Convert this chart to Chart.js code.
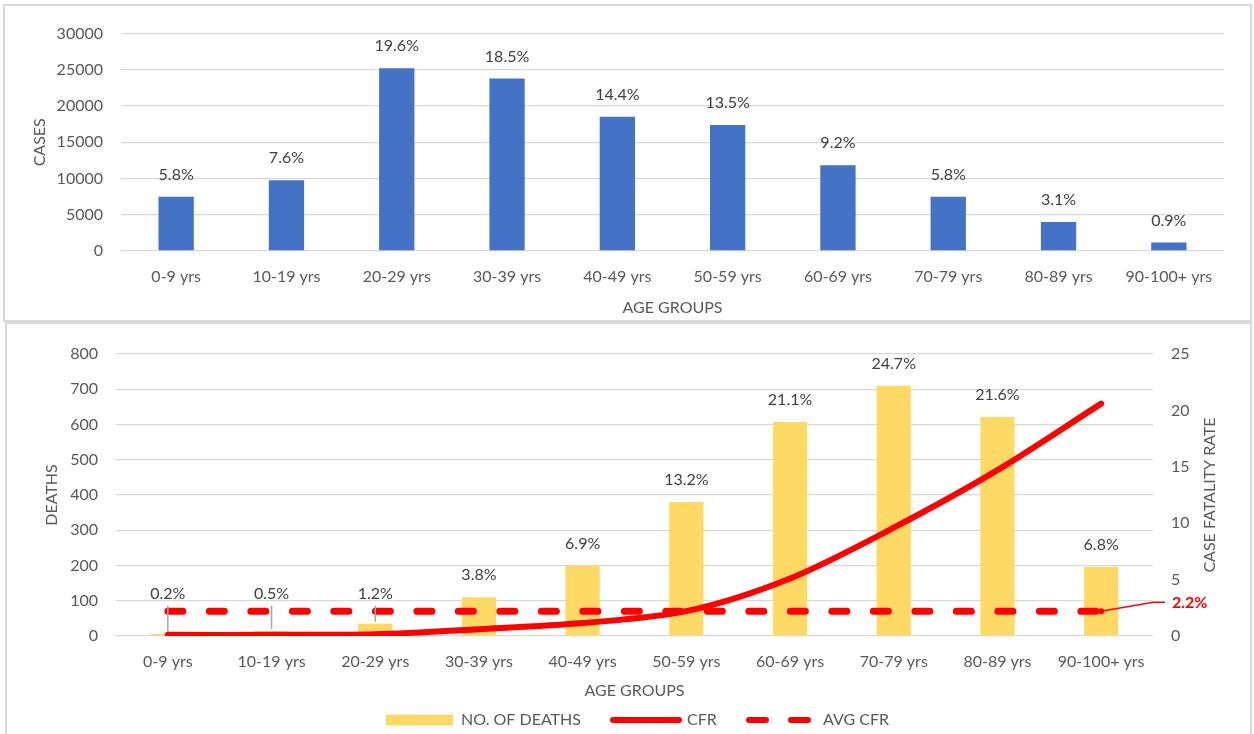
<!DOCTYPE html>
<html>
<head>
<meta charset="utf-8">
<script src="https://cdn.jsdelivr.net/npm/chart.js@4.4.1/dist/chart.umd.min.js"></script>
<style>
    body { margin: 0; background: #fff; overflow: hidden; width: 1254px; height: 734px; position: relative; }
    .caja { position: absolute; border: 2px solid #d9d9d9; box-sizing: border-box; }
    #caja-casos { left: 3px; top: 4px; width: 1249px; height: 318px; }
    #caja-muertes { left: 5px; top: 322px; width: 1247px; height: 430px; }
    canvas { display: block; }
</style>
</head>
<body>
<div class="caja" id="caja-casos"><canvas id="casos-grafica" width="1245" height="314"></canvas></div>
<div class="caja" id="caja-muertes"><canvas id="muertes-grafica" width="1243" height="410"></canvas></div>
<script>
const grupos = ['0-9 yrs', '10-19 yrs', '20-29 yrs', '30-39 yrs', '40-49 yrs', '50-59 yrs', '60-69 yrs', '70-79 yrs', '80-89 yrs', '90-100+ yrs'];
const casos = [7470, 9780, 25220, 23810, 18530, 17380, 11840, 7470, 3990, 1160];
const casosPct = [5.8, 7.6, 19.6, 18.5, 14.4, 13.5, 9.2, 5.8, 3.1, 0.9];
const muertes = [6, 14, 35, 110, 199, 380, 607, 710, 621, 196];
const muertesPct = [0.2, 0.5, 1.2, 3.8, 6.9, 13.2, 21.1, 24.7, 21.6, 6.8];
const cfr = [0.1, 0.1, 0.15, 0.6, 1.15, 2.2, 5.1, 9.6, 14.7, 20.6];
const cfrPromedio = 2.2;
const ticksCasos = [0, 5000, 10000, 15000, 20000, 25000, 30000];
const ticksMuertes = [0, 100, 200, 300, 400, 500, 600, 700, 800];
const ticksCfr = [0, 5, 10, 15, 20, 25];

(function() {
    Chart.defaults.font.family = 'Lato, "Open Sans", sans-serif';
    Chart.defaults.font.size = 16;
    Chart.defaults.color = '#595959';
    Chart.defaults.animation = false;

    const gris = '#d9d9d9';
    const textoDatos = '#404040';

    // etiquetas % encima de las barras
    const etiquetas = {
        id: 'etiquetas',
        afterDatasetsDraw(chart, args, opts) {
            const ctx = chart.ctx;
            const meta = chart.getDatasetMeta(opts.dataset || 0);
            const escala = chart.scales.y;
            const limite = opts.minValor != null ? escala.getPixelForValue(opts.minValor) : Infinity;
            ctx.save();
            ctx.font = '16px Lato, sans-serif';
            ctx.fillStyle = textoDatos;
            ctx.textAlign = 'center';
            ctx.textBaseline = 'middle';
            meta.data.forEach((barra, i) => {
                let y = barra.y - 22;
                if (y > limite) {
                    y = limite;
                    ctx.strokeStyle = '#a6a6a6';
                    ctx.lineWidth = 1.5;
                    ctx.beginPath();
                    ctx.moveTo(barra.x, y + 12);
                    ctx.lineTo(barra.x, barra.y - 2);
                    ctx.stroke();
                }
                ctx.fillText(opts.valores[i].toFixed(1) + '%', barra.x, y);
            });
            ctx.restore();
        }
    };

    // extras de la segunda grafica: titulo derecho, etiqueta 2.2% y leyenda
    const extras = {
        id: 'extras',
        afterDraw(chart) {
            const ctx = chart.ctx;
            const area = chart.chartArea;
            ctx.save();

            ctx.fillStyle = '#595959';
            ctx.font = '16px Lato, sans-serif';
            ctx.textAlign = 'center';
            ctx.textBaseline = 'middle';
            ctx.translate(1203, (area.top + area.bottom) / 2);
            ctx.rotate(-Math.PI / 2);
            ctx.fillText('CASE FATALITY RATE', 0, 0);
            ctx.setTransform(1, 0, 0, 1, 0, 0);

            const puntos = chart.getDatasetMeta(2).data;
            const ultimo = puntos[puntos.length - 1];
            ctx.strokeStyle = '#ff0000';
            ctx.lineWidth = 1.5;
            ctx.beginPath();
            ctx.moveTo(ultimo.x, ultimo.y);
            ctx.lineTo(area.right, ultimo.y - 9);
            ctx.lineTo(area.right + 12, ultimo.y - 9);
            ctx.stroke();
            ctx.fillStyle = '#ff0000';
            ctx.beginPath();
            ctx.arc(ultimo.x, ultimo.y, 3, 0, Math.PI * 2);
            ctx.fill();
            ctx.font = 'bold 16px Lato, sans-serif';
            ctx.textAlign = 'left';
            ctx.fillText(cfrPromedio.toFixed(1) + '%', area.right + 19, ultimo.y - 8);

            // leyenda
            const yl = 396;
            ctx.font = '16px Lato, sans-serif';
            ctx.textBaseline = 'middle';
            ctx.fillStyle = '#ffd966';
            ctx.fillRect(379, yl - 5.5, 67, 11);
            ctx.fillStyle = '#595959';
            ctx.fillText('NO. OF DEATHS', 454, yl);
            ctx.strokeStyle = '#ff0000';
            ctx.lineCap = 'round';
            ctx.lineWidth = 6;
            ctx.beginPath();
            ctx.moveTo(606, yl);
            ctx.lineTo(672, yl);
            ctx.stroke();
            ctx.fillText('CFR', 680, yl);
            ctx.beginPath();
            ctx.moveTo(742, yl);
            ctx.lineTo(759, yl);
            ctx.moveTo(784, yl);
            ctx.lineTo(801, yl);
            ctx.stroke();
            ctx.fillText('AVG CFR', 816, yl);
            ctx.restore();
        }
    };

    const grafica1 = document.querySelector('#casos-grafica');
    new Chart(grafica1.getContext('2d'), {
        type: 'bar',
        data: {
            labels: grupos,
            datasets: [{
                label: 'CASES',
                data: casos,
                backgroundColor: '#4472c4',
                barPercentage: 0.32,
                categoryPercentage: 1
            }]
        },
        options: {
            responsive: false,
            layout: { padding: { left: 0, right: 26, top: 25, bottom: 0 } },
            scales: {
                x: {
                    grid: { display: false },
                    border: { display: false },
                    ticks: { padding: 8, maxRotation: 0, autoSkip: false },
                    title: { display: true, text: 'AGE GROUPS', padding: { top: 0, bottom: 3 } },
                    afterFit(scale) { scale.height = 69; }
                },
                y: {
                    min: 0,
                    max: ticksCasos[ticksCasos.length - 1],
                    afterBuildTicks(scale) { scale.ticks = ticksCasos.map(v => ({ value: v })); },
                    grid: { color: gris, lineWidth: 1.3, drawTicks: false },
                    border: { display: false },
                    ticks: { padding: 18, callback: v => v },
                    title: { display: true, text: 'CASES', padding: { top: 25, bottom: 0 } },
                    afterFit(scale) { scale.width = 116; }
                }
            },
            plugins: {
                legend: { display: false },
                tooltip: { enabled: false },
                etiquetas: { valores: casosPct }
            }
        },
        plugins: [etiquetas]
    });

    const grafica2 = document.querySelector('#muertes-grafica');
    new Chart(grafica2.getContext('2d'), {
        type: 'bar',
        data: {
            labels: grupos,
            datasets: [{
                type: 'bar',
                label: 'NO. OF DEATHS',
                data: muertes,
                backgroundColor: '#ffd966',
                barPercentage: 0.33,
                categoryPercentage: 1,
                yAxisID: 'y',
                order: 3
            }, {
                type: 'line',
                label: 'CFR',
                data: cfr,
                borderColor: '#ff0000',
                borderWidth: 6,
                borderCapStyle: 'round',
                tension: 0.3,
                pointRadius: 0,
                yAxisID: 'y1',
                order: 1
            }, {
                type: 'line',
                label: 'AVG CFR',
                data: grupos.map(() => cfrPromedio),
                borderColor: '#ff0000',
                borderWidth: 7,
                borderDash: [15, 26.5],
                borderCapStyle: 'round',
                pointRadius: 0,
                yAxisID: 'y1',
                order: 2
            }]
        },
        options: {
            responsive: false,
            layout: { padding: { left: 0, right: 0, top: 30, bottom: 32 } },
            scales: {
                x: {
                    grid: { display: false },
                    border: { display: false },
                    ticks: { padding: 8, maxRotation: 0, autoSkip: false },
                    title: { display: true, text: 'AGE GROUPS', padding: { top: 0, bottom: 2 } },
                    afterFit(scale) { scale.height = 66; }
                },
                y: {
                    position: 'left',
                    min: 0,
                    max: ticksMuertes[ticksMuertes.length - 1],
                    afterBuildTicks(scale) { scale.ticks = ticksMuertes.map(v => ({ value: v })); },
                    grid: { color: gris, lineWidth: 1.3, drawTicks: false },
                    border: { display: false },
                    ticks: { padding: 18, callback: v => v },
                    title: { display: true, text: 'DEATHS', padding: { top: 35, bottom: 0 } },
                    afterFit(scale) { scale.width = 109; }
                },
                y1: {
                    position: 'right',
                    min: 0,
                    max: ticksCfr[ticksCfr.length - 1],
                    afterBuildTicks(scale) { scale.ticks = ticksCfr.map(v => ({ value: v })); },
                    grid: { drawOnChartArea: false, drawTicks: false },
                    border: { display: false },
                    ticks: { padding: 18, callback: v => v },
                    afterFit(scale) { scale.width = 97; }
                }
            },
            plugins: {
                legend: { display: false },
                tooltip: { enabled: false },
                etiquetas: { valores: muertesPct, minValor: 120 }
            }
        },
        plugins: [etiquetas, extras]
    });
})();
</script>
</body>
</html>
